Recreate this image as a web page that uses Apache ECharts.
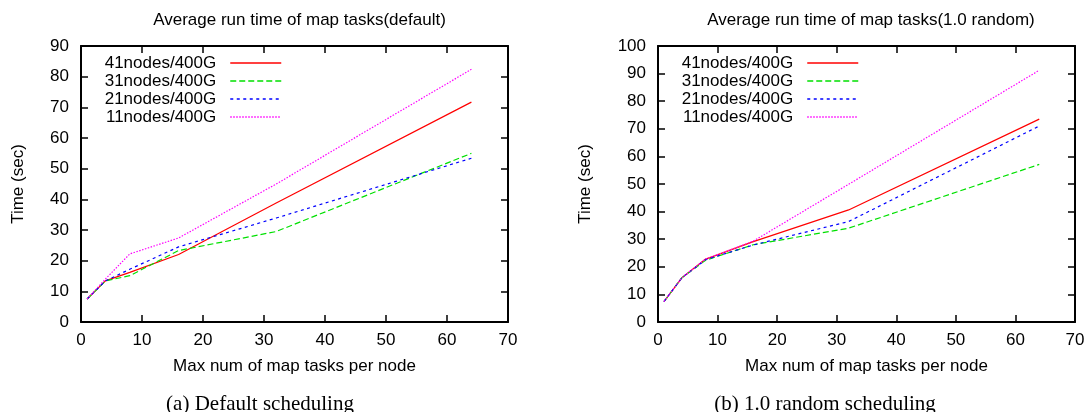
<!DOCTYPE html>
<html>
<head>
<meta charset="utf-8">
<script src="https://cdn.jsdelivr.net/npm/echarts@6/dist/echarts.min.js"></script>
<style>
html,body{margin:0;padding:0;background:#fff;}
#c{width:1088px;height:412px;}
</style>
</head>
<body>
<div id="c"></div>
<script>
// ---- data ----
const mapTasks = [1, 4, 8, 16, 32, 64];
const seriesNames = ['41nodes/400G', '31nodes/400G', '21nodes/400G', '11nodes/400G'];

// (a) default scheduling
const defaultN41 = [7.5, 13.4, 16.2, 22.0, 38.8, 71.7];
const defaultN31 = [7.5, 13.4, 15.1, 23.3, 29.5, 55.0];
const defaultN21 = [7.5, 13.4, 17.2, 24.5, 33.9, 53.4];
const defaultN11 = [7.5, 14.0, 22.2, 27.4, 45.0, 82.4];

// (b) 1.0 random scheduling
const randomN41 = [7.4, 16.0, 22.8, 29.1, 40.6, 73.5];
const randomN31 = [7.4, 16.0, 22.4, 28.0, 34.0, 57.1];
const randomN21 = [7.4, 16.0, 22.6, 27.9, 36.4, 71.0];
const randomN11 = [7.4, 16.0, 22.8, 29.3, 49.9, 91.2];

const titles = ['Average run time of map tasks(default)', 'Average run time of map tasks(1.0 random)'];
const captions = ['(a) Default scheduling', '(b) 1.0 random scheduling'];
const xAxisName = 'Max num of map tasks per node';
const yAxisName = 'Time (sec)';

// ---- styles ----
const FONT = 'Liberation Sans';
const colors = ['#ff0000', '#00e000', '#0000ff', '#ff00ff'];
const dashes = ['solid', [6, 3], [3, 3.5], [1.5, 1.5]];

const chart = echarts.init(document.getElementById('c'), null, {renderer: 'canvas'});

function pairs(vals) { return mapTasks.map((x, i) => [x, vals[i]]); }

const grids = [
  {left: 81, top: 46, width: 427, height: 276},
  {left: 658, top: 46, width: 417, height: 276}
];

function xAxisPair(gi) {
  const base = {
    type: 'value', min: 0, max: 70, interval: 10, gridIndex: gi,
    splitLine: {show: false},
    axisLine: {show: true, onZero: false, lineStyle: {color: '#000', width: 2}},
    axisTick: {show: true, inside: true, length: 7, lineStyle: {color: '#000', width: 1.5}}
  };
  return [
    Object.assign({}, base, {
      position: 'bottom',
      axisLabel: {show: true, margin: 10, color: '#000', fontFamily: FONT, fontSize: 17},
      name: xAxisName, nameLocation: 'middle', nameGap: 36,
      nameTextStyle: {color: '#000', fontFamily: FONT, fontSize: 17}
    }),
    Object.assign({}, base, {position: 'top', axisLabel: {show: false}})
  ];
}
function yAxisPair(gi, max, gap) {
  const base = {
    type: 'value', min: 0, max: max, interval: 10, gridIndex: gi,
    splitLine: {show: false},
    axisLine: {show: true, onZero: false, lineStyle: {color: '#000', width: 2}},
    axisTick: {show: true, inside: true, length: 7, lineStyle: {color: '#000', width: 1.5}}
  };
  return [
    Object.assign({}, base, {
      position: 'left',
      axisLabel: {show: true, margin: 12, color: '#000', fontFamily: FONT, fontSize: 17},
      name: yAxisName, nameLocation: 'middle', nameGap: gap,
      nameTextStyle: {color: '#000', fontFamily: FONT, fontSize: 17}
    }),
    Object.assign({}, base, {position: 'right', axisLabel: {show: false}})
  ];
}

const xAxes = [...xAxisPair(0), ...xAxisPair(1)];
const yAxes = [...yAxisPair(0, 90, 54), ...yAxisPair(1, 100, 64)];

const leftData = [defaultN41, defaultN31, defaultN21, defaultN11];
const rightData = [randomN41, randomN31, randomN21, randomN11];

const series = [];
leftData.forEach((vals, i) => {
  series.push({
    type: 'line', name: seriesNames[i], xAxisIndex: 0, yAxisIndex: 0,
    data: pairs(vals), symbol: 'none', showSymbol: false,
    lineStyle: {color: colors[i], width: 1.2, type: dashes[i]},
    itemStyle: {color: colors[i]}
  });
});
rightData.forEach((vals, i) => {
  series.push({
    type: 'line', name: seriesNames[i], xAxisIndex: 2, yAxisIndex: 2,
    data: pairs(vals), symbol: 'none', showSymbol: false,
    lineStyle: {color: colors[i], width: 1.2, type: dashes[i]},
    itemStyle: {color: colors[i]}
  });
});

function legend(right) {
  return {
    orient: 'vertical', align: 'right', right: right, top: 54, padding: 0,
    itemWidth: 51, itemHeight: 14, itemGap: 0,
    data: seriesNames,
    itemStyle: {opacity: 0},
    lineStyle: {width: 1.5},
    textStyle: {color: '#000', fontFamily: FONT, fontSize: 17, lineHeight: 18, padding: [0, 9, 0, 0]}
  };
}

chart.setOption({
  animation: false,
  backgroundColor: '#fff',
  title: [
    {text: titles[0], left: 294.5, top: 7, textAlign: 'center', textStyle: {color: '#000', fontFamily: FONT, fontSize: 17, fontWeight: 'normal'}},
    {text: titles[1], left: 866, top: 7, textAlign: 'center', textStyle: {color: '#000', fontFamily: FONT, fontSize: 17, fontWeight: 'normal'}},
    {text: captions[0], left: 255, top: 389, textAlign: 'center', textStyle: {color: '#000', fontFamily: 'Liberation Serif', fontSize: 21, fontWeight: 'normal'}},
    {text: captions[1], left: 820, top: 389, textAlign: 'center', textStyle: {color: '#000', fontFamily: 'Liberation Serif', fontSize: 21, fontWeight: 'normal'}}
  ],
  legend: [legend(806), legend(229)],
  grid: grids,
  xAxis: xAxes,
  yAxis: yAxes,
  series: series
});
</script>
</body>
</html>
